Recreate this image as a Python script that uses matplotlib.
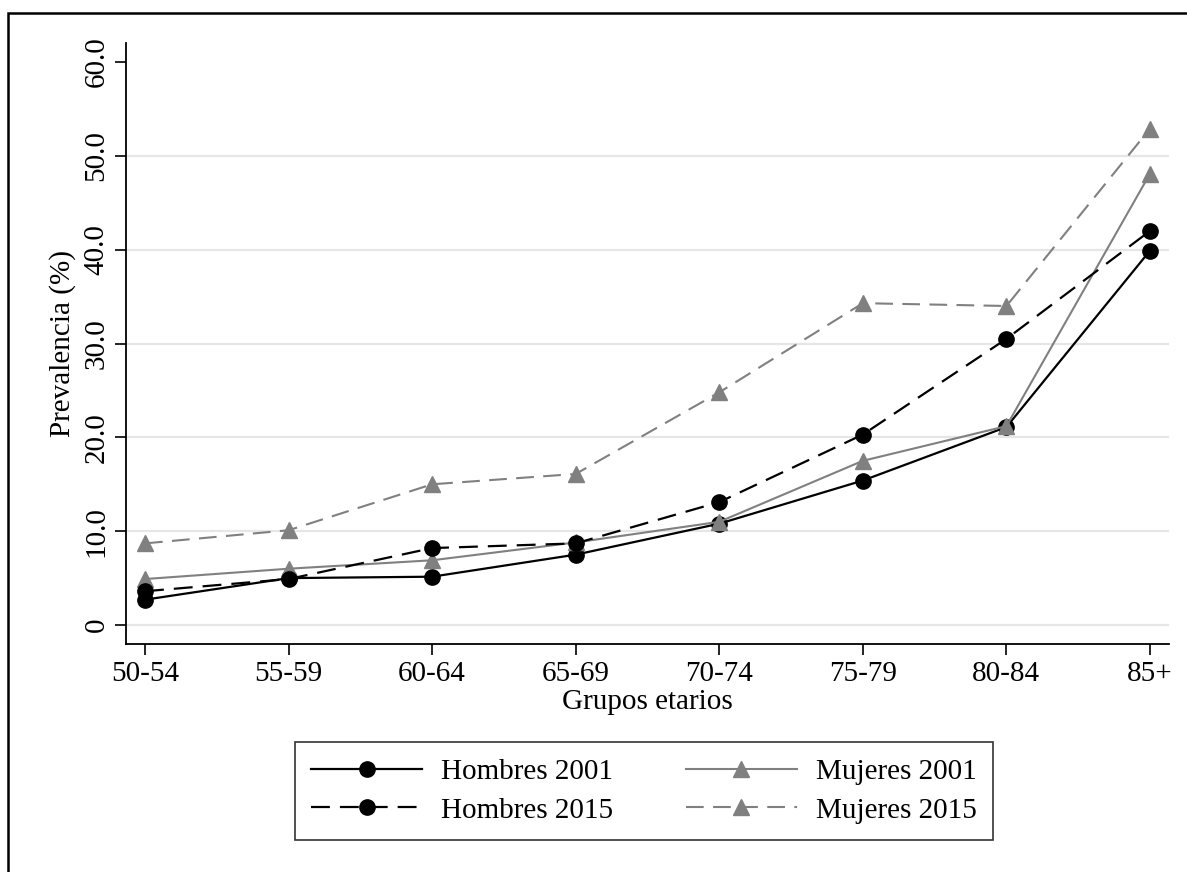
import matplotlib
matplotlib.use("Agg")
import matplotlib.pyplot as plt
from matplotlib.patches import Rectangle

plt.rcParams['font.family'] = ['Liberation Serif', 'DejaVu Serif']

# grupos etarios y prevalencias (%)
grupos = ['50-54', '55-59', '60-64', '65-69', '70-74', '75-79', '80-84', '85+']
hombres_2001 = [2.7, 5.0, 5.15, 7.5, 10.8, 15.4, 21.1, 39.9]
mujeres_2001 = [4.9, 6.0, 6.9, 8.8, 11.0, 17.5, 21.2, 48.1]
hombres_2015 = [3.6, 4.9, 8.2, 8.7, 13.1, 20.3, 30.5, 42.0]
mujeres_2015 = [8.7, 10.1, 15.0, 16.1, 24.8, 34.3, 34.0, 52.9]

yticks = [0, 10, 20, 30, 40, 50, 60]
ytick_labels = ['0', '10.0', '20.0', '30.0', '40.0', '50.0', '60.0']

gris = '#808080'
fs = 21
x = range(len(grupos))

fig = plt.figure(figsize=(11.87, 8.72), dpi=100)
ax = fig.add_axes([0.1062, 0.2615, 0.8786, 0.6892])

# marco exterior
fig.patches.append(Rectangle((8 / 1187, -0.05), 1.1, 1 - 13.5 / 872 + 0.05,
                             transform=fig.transFigure, fill=False,
                             edgecolor='black', linewidth=1.8))

for v in yticks[:-1]:
    ax.axhline(v, color='#e6e6e6', linewidth=1.6, zorder=0)

ax.plot(x, hombres_2001, color='black', lw=1.6, marker='o', ms=11,
        label='Hombres 2001', zorder=3)
ax.plot(x, mujeres_2001, color=gris, lw=1.5, marker='^', ms=12,
        label='Mujeres 2001', zorder=3)
ax.plot(x, hombres_2015, color='black', lw=1.6, marker='o', ms=11,
        dashes=(8.5, 4.5), label='Hombres 2015', zorder=3)
ax.plot(x, mujeres_2015, color=gris, lw=1.5, marker='^', ms=12,
        dashes=(8.5, 4.5), label='Mujeres 2015', zorder=3)

ax.set_xlim(-0.132, 7.132)
ax.set_ylim(-2.02, 62.03)
ax.set_xticks(list(x))
ax.set_xticklabels(grupos, fontsize=fs)
ax.set_yticks(yticks)
ax.set_yticklabels(ytick_labels, fontsize=fs, rotation=90, va='center')
ax.tick_params(direction='out', length=8, width=1.2, pad=4)

for s in ['top', 'right']:
    ax.spines[s].set_visible(False)
for s in ['left', 'bottom']:
    ax.spines[s].set_linewidth(1.3)

ax.set_xlabel('Grupos etarios', fontsize=fs, labelpad=2)
ax.set_ylabel('Prevalencia (%)', fontsize=fs, labelpad=5)

handles, labels = ax.get_legend_handles_labels()
orden = [0, 2, 1, 3]
leg = fig.legend([handles[i] for i in orden], [labels[i] for i in orden],
                 loc='center', bbox_to_anchor=(644 / 1187, 1 - 791 / 872),
                 ncol=2, fontsize=fs, frameon=True, fancybox=False,
                 edgecolor='black', handlelength=3.8, handletextpad=0.65,
                 columnspacing=2.5, borderpad=0.56, labelspacing=0.43,
                 numpoints=1)
leg.get_frame().set_linewidth(1.2)

fig.savefig('out.png', dpi=100, facecolor='white')
